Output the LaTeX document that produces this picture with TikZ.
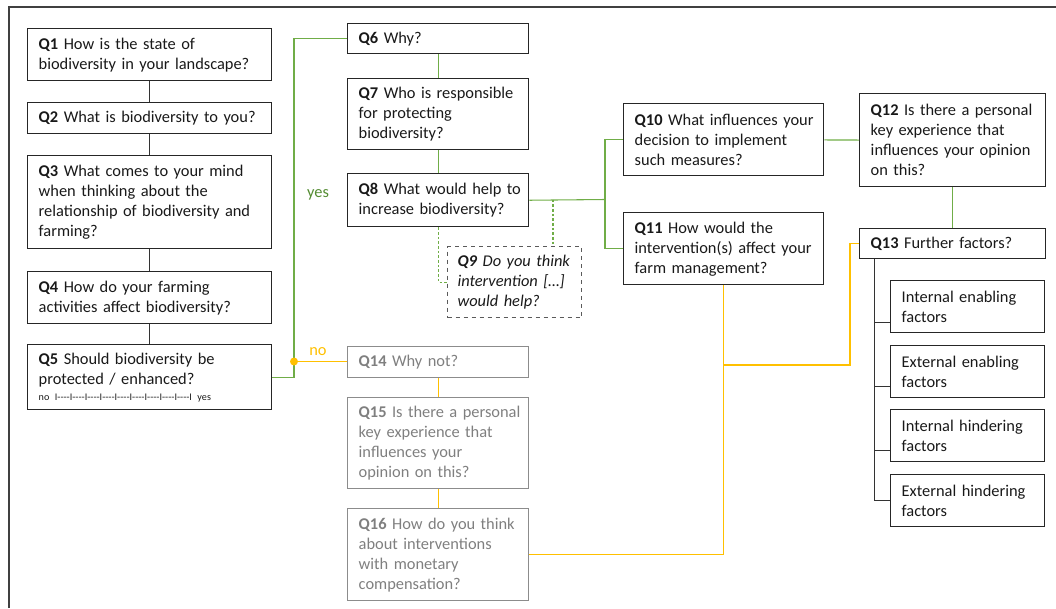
\documentclass[tikz,border=0pt]{standalone}
\usepackage{fontspec}
\setmainfont{Carlito}
\usetikzlibrary{calc}
\definecolor{lgreen}{RGB}{112,173,71}
\definecolor{ygreen}{RGB}{84,140,50}
\definecolor{gold}{RGB}{255,192,0}
\definecolor{boxgray}{RGB}{140,140,140}
\definecolor{txtgray}{RGB}{127,127,127}
\definecolor{txt}{RGB}{25,25,25}
\definecolor{framec}{RGB}{64,64,64}
\definecolor{dashc}{RGB}{90,90,90}
\newcommand{\ql}[1]{\mbox{#1}}
\newcommand{\dsh}{I-{}-{}-{}-}
\begin{document}
\begin{tikzpicture}[x=0.75pt,y=-0.75pt,
  base/.style={anchor=north west, align=left, inner xsep=0pt, inner ysep=0pt,
    font=\fontsize{12.3}{15}\selectfont, line width=1.1pt},
  qbox/.style={base, draw=black!85, text=txt},
  gbox/.style={base, draw=boxgray, text=txtgray},
  dbox/.style={base, draw=dashc, dashed, line width=0.8pt, text=txt},
  colL/.style={minimum width=183pt, text width=166.5pt},
  colM/.style={minimum width=135.75pt, text width=119.25pt},
  colR/.style={minimum width=150pt, text width=133.5pt},
  colRR/.style={minimum width=139.5pt, text width=123pt},
  colF/.style={minimum width=115.5pt, text width=99pt},
  blk/.style={draw=black!80, line width=0.75pt},
  grn/.style={draw=lgreen, line width=0.8pt},
  yel/.style={draw=gold, line width=0.8pt},
  grndash/.style={draw=lgreen, line width=0.8pt, dash pattern=on 2pt off 1.5pt},
  lbl/.style={font=\fontsize{12.3}{15}\selectfont, inner sep=0pt}
]
\useasboundingbox (0,0) rectangle (1056,608);
\draw[framec, line width=1.1pt] (9,608) -- (9,7) -- (1056,7);

% left column
\node[qbox, colL, minimum height=39pt] (q1) at (27,28) {\ql{\textbf{Q1} How is the state of}\\\ql{biodiversity in your landscape?}};
\node[qbox, colL, minimum height=23.25pt] (q2) at (27,102) {\ql{\textbf{Q2} What is biodiversity to you?}};
\node[qbox, colL, minimum height=69.75pt] (q3) at (27,155) {\ql{\textbf{Q3} What comes to your mind}\\\ql{when thinking about the}\\\ql{relationship of biodiversity and}\\\ql{farming?}};
\node[qbox, colL, minimum height=39pt] (q4) at (27,271) {\ql{\textbf{Q4} How do your farming}\\\ql{activities affect biodiversity?}};
\node[qbox, colL, minimum height=48.75pt] (q5) at (27,344) {\ql{\textbf{Q5} Should biodiversity be}\\\ql{protected / enhanced?}\\[-3pt]{\fontsize{7.6}{8}\selectfont\ql{no \dsh\dsh\dsh\dsh\dsh\dsh\dsh\dsh\dsh I yes}}};

% middle column (yes)
\node[qbox, colM, minimum height=22.5pt] (q6) at (347,23) {\ql{\textbf{Q6} Why?}};
\node[qbox, colM, minimum height=53.25pt] (q7) at (347,78) {\ql{\textbf{Q7} Who is responsible}\\\ql{for protecting}\\\ql{biodiversity?}};
\node[qbox, colM, minimum height=39.75pt] (q8) at (347,173) {\ql{\textbf{Q8} What would help to}\\\ql{increase biodiversity?}};
\node[dbox, minimum width=100.5pt, text width=85.5pt, minimum height=53.25pt] (q9) at (447,246) {\ql{\textbf{\textit{Q9}} \textit{Do you think}}\\\ql{\textit{intervention […]}}\\\ql{\textit{would help?}}};

% middle column (no)
\node[gbox, colM, minimum height=23.25pt] (q14) at (347,346) {\ql{\textbf{Q14} Why not?}};
\node[gbox, colM, minimum height=68.25pt] (q15) at (347,397) {\ql{\textbf{Q15} Is there a personal}\\\ql{key experience that}\\\ql{influences your}\\\ql{opinion on this?}};
\node[gbox, colM, minimum height=69pt] (q16) at (347,508) {\ql{\textbf{Q16} How do you think}\\\ql{about interventions}\\\ql{with monetary}\\\ql{compensation?}};

% right part
\node[qbox, colR, minimum height=54pt] (q10) at (623,103) {\ql{\textbf{Q10} What influences your}\\\ql{decision to implement}\\\ql{such measures?}};
\node[qbox, colR, minimum height=54pt] (q11) at (623,212) {\ql{\textbf{Q11} How would the}\\\ql{intervention(s) affect your}\\\ql{farm management?}};
\node[qbox, colRR, minimum height=69.75pt] (q12) at (859,93) {\ql{\textbf{Q12} Is there a personal}\\\ql{key experience that}\\\ql{influences your opinion}\\\ql{on this?}};
\node[qbox, colRR, minimum height=22.5pt] (q13) at (859,228) {\ql{\textbf{Q13} Further factors?}};

\node[qbox, colF, minimum height=39pt] (f1) at (890,280) {\ql{Internal enabling}\\\ql{factors}};
\node[qbox, colF, minimum height=39pt] (f2) at (890,345) {\ql{External enabling}\\\ql{factors}};
\node[qbox, colF, minimum height=39pt] (f3) at (890,409) {\ql{Internal hindering}\\\ql{factors}};
\node[qbox, colF, minimum height=39pt] (f4) at (890,474) {\ql{External hindering}\\\ql{factors}};

% labels
\node[lbl, text=ygreen] (yes) at (318,195) {yes};
\node[lbl, text=gold] (no) at (318,352) {no};

% connectors left column
\draw[blk] (q1) -- (q2);
\draw[blk] (q2) -- (q3);
\draw[blk] (q3) -- (q4);
\draw[blk] (q4) -- (q5);

% yes / no branch
\coordinate (j) at (294,361.5);
\draw[grn] (q5.east) -| (j) |- (q6.west);
\draw[yel] (j) -- (j -| q14.west);
\fill[gold] (j) circle (3pt);

\draw[grn] (q6) -- (q7);
\draw[grn] (q7) -- (q8);
\coordinate (b) at (605,199.5);
\draw[grn] (q8.east) -- (b);
\draw[grn] (b) |- (q10.west);
\draw[grn] (b) |- (q11.west);
\draw[grndash] (q8.south) |- (q9.west);
\coordinate (d9) at (553,199.5);
\draw[grndash] (d9) -- (d9 |- q9.north);
\draw[grn] (q10) -- (q12);
\draw[grn] (q12) -- (q13);

% no branch
\draw[yel] (q14) -- (q15);
\draw[yel] (q15) -- (q16);
\draw[yel] (q16.east) -| (q11.south);
\coordinate (y1) at (q11.south |- 0,365);
\coordinate (y2) at (850,365);
\draw[yel] (y1) -- (y2) |- (q13.west);

% factors
\coordinate (t) at (874,258);
\coordinate (c1) at ($(f1.west)+(0,16)$);
\coordinate (c2) at ($(f2.west)+(0,15)$);
\coordinate (c3) at ($(f3.west)+(0,15)$);
\draw[blk] (q13.south -| t) |- (f4.west);
\draw[blk] (c1 -| t) -- (c1);
\draw[blk] (c2 -| t) -- (c2);
\draw[blk] (c3 -| t) -- (c3);
\end{tikzpicture}
\end{document}
